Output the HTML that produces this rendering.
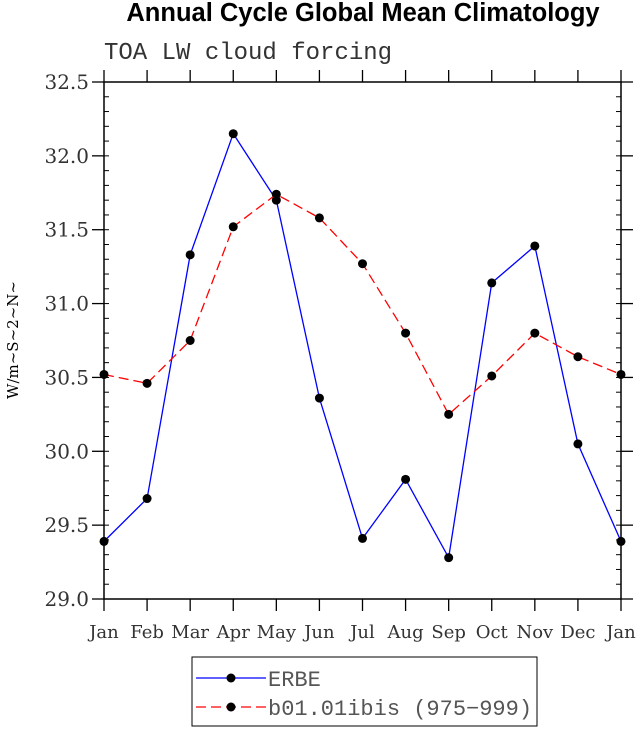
<!DOCTYPE html>
<html><head><meta charset="utf-8"><style>
body{margin:0;background:#fff}
svg text{font-family:"DejaVu Serif","Liberation Serif",serif}
</style></head><body>
<svg width="638" height="728" viewBox="0 0 638 728">
<text x="363" y="21" text-anchor="middle" font-weight="bold" font-size="25.5" style="font-family:'Liberation Sans',sans-serif">Annual Cycle Global Mean Climatology</text>
<text x="104" y="59" font-size="24" fill="#333" style="font-family:'Liberation Mono',monospace">TOA LW cloud forcing</text>
<text transform="translate(18,340) rotate(-90)" text-anchor="middle" font-size="15">W/m~S~2~N~</text>
<rect x="104" y="82" width="517" height="517" fill="none" stroke="#000" stroke-width="1.5"/>
<g id="axes"></g>
<g id="series"></g>
<g>
<rect x="192" y="657" width="345" height="69" fill="#fff" stroke="#000" stroke-width="1"/>
<g><line x1="196" y1="678" x2="266" y2="678" stroke="#0000ff" stroke-width="1.3"/><circle cx="231" cy="678" r="4.5"/><text x="268" y="686" font-size="22" fill="#555" style="font-family:'Liberation Mono',monospace">ERBE</text></g>
<g><line x1="196" y1="707" x2="266" y2="707" stroke="#ff0000" stroke-width="1.3" stroke-dasharray="10,5"/><circle cx="231" cy="707" r="4.5"/><text x="268" y="715" font-size="22" fill="#555" style="font-family:'Liberation Mono',monospace">b01.01ibis (975−999)</text></g>
</g>
</svg>
<script>
const months=["Jan","Feb","Mar","Apr","May","Jun","Jul","Aug","Sep","Oct","Nov","Dec","Jan"];
const erbe=[29.39,29.68,31.33,32.15,31.70,30.36,29.41,29.81,29.28,31.14,31.39,30.05,29.39];
const model=[30.52,30.46,30.75,31.52,31.74,31.58,31.27,30.80,30.25,30.51,30.80,30.64,30.52];
const yTicks=["29.0","29.5","30.0","30.5","31.0","31.5","32.0","32.5"];
const NS="http://www.w3.org/2000/svg";
const X0=104,X1=621,Y0=599,Y1=82,ymin=29,ymax=32.5;
const xs=i=>X0+i*(X1-X0)/(months.length-1);
const ys=v=>Y0-(v-ymin)/(ymax-ymin)*(Y0-Y1);
function mk(t,a,p){const e=document.createElementNS(NS,t);for(const k in a)e.setAttribute(k,a[k]);p.appendChild(e);return e;}
const ax=document.getElementById('axes');
yTicks.forEach(t=>{const y=ys(+t);
 const g=mk('g',{},ax);
 
 
 mk('line',{x1:X0-12,x2:X0,y1:y,y2:y,stroke:'#000','stroke-width':1.3},g);
 mk('line',{x1:X1,x2:X1+12,y1:y,y2:y,stroke:'#000','stroke-width':1.3},g);
 const tx=mk('text',{x:X0-15,y:y+7,'text-anchor':'end','font-size':20,fill:'#333'},g);tx.textContent=t;});
for(let v=ymin;v<ymax-1e-6;v+=0.1){const y=ys(v);
 mk('line',{x1:X0,x2:X0+5,y1:y,y2:y,stroke:'#000'},ax);mk('line',{x1:X1-5,x2:X1,y1:y,y2:y,stroke:'#000'},ax);}
months.forEach((m,i)=>{const x=xs(i);
 const g=mk('g',{},ax);
 
 
 mk('line',{x1:x,x2:x,y1:Y0,y2:Y0+12,stroke:'#000','stroke-width':1.3},g);
 mk('line',{x1:x,x2:x,y1:Y1-12,y2:Y1,stroke:'#000','stroke-width':1.3},g);
 const tx=mk('text',{x:x,y:638,'text-anchor':'middle','font-size':18,fill:'#333'},g);tx.textContent=m;});
const sg=document.getElementById('series');
function draw(d,color,dash,name){
 const p=mk('polyline',{points:d.map((v,i)=>xs(i)+','+ys(v)).join(' '),fill:'none',stroke:color,'stroke-width':1.3},sg);
 if(dash)p.setAttribute('stroke-dasharray',dash);
 
 
 d.forEach((v,i)=>{const c=mk('circle',{cx:xs(i),cy:ys(v),r:4.5,fill:'#000'},sg);
  
  });
}
draw(erbe,'#0000ff',null,'erbe');
draw(model,'#ff0000','10,5','model');
</script>
</body></html>
